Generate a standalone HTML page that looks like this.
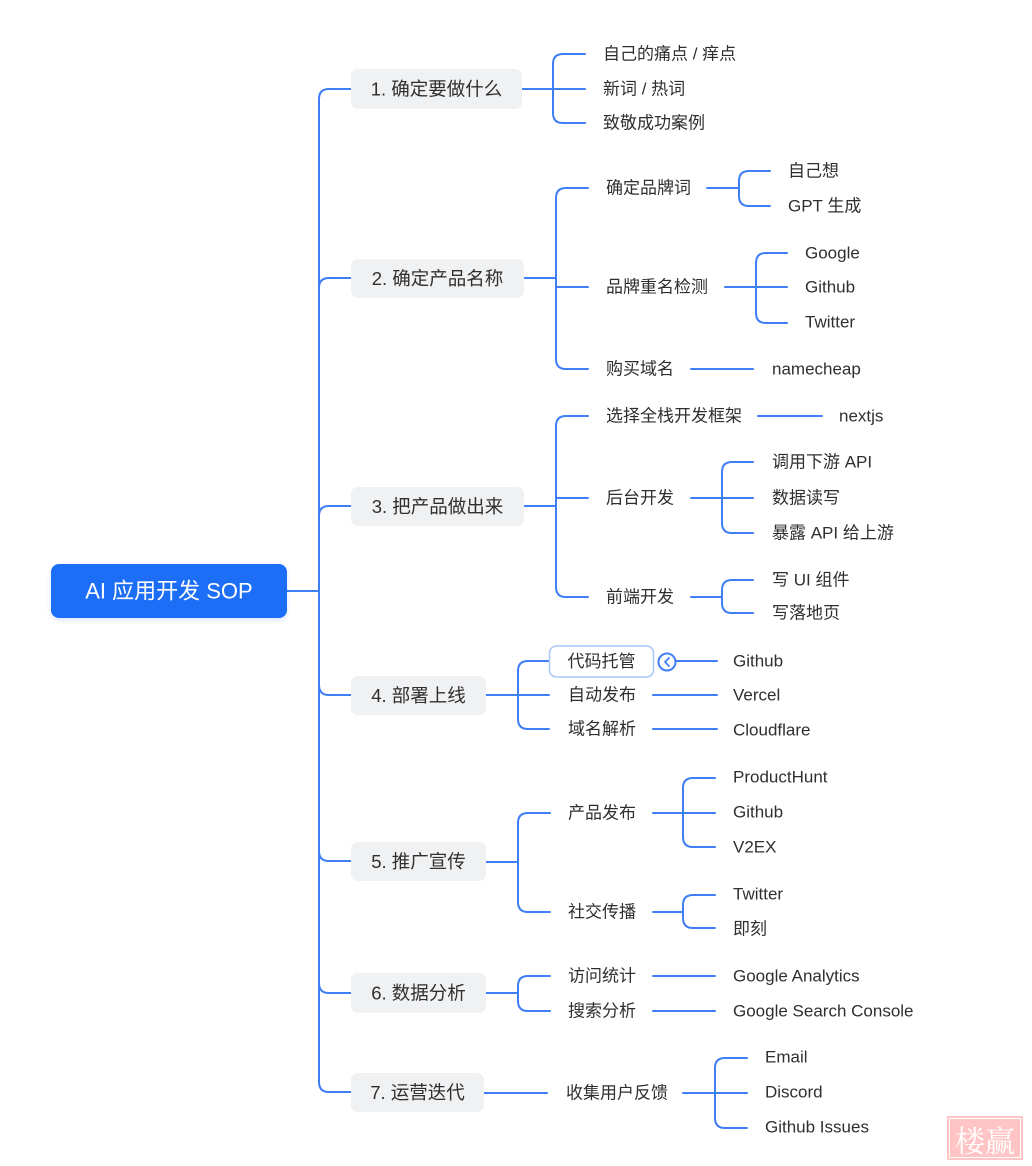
<!DOCTYPE html>
<html><head><meta charset="utf-8"><style>
html,body{margin:0;padding:0;background:#fff;}
svg{display:block;}
text{font-family:"Liberation Sans","Noto Sans CJK SC",sans-serif;fill:#2f2f2f;dominant-baseline:central;}
.l1{font-size:18.5px;text-anchor:middle;}
.t{font-size:17px;}
.ln{fill:none;stroke:#3f7ef5;stroke-width:2;stroke-linecap:round;stroke-linejoin:round;}
</style></head><body>
<svg width="1032" height="1166" viewBox="0 0 1032 1166" xmlns="http://www.w3.org/2000/svg">
<defs>
<filter id="sh" x="-10%" y="-20%" width="120%" height="150%"><feDropShadow dx="0" dy="2" stdDeviation="2" flood-color="#1c6ef7" flood-opacity="0.18"/></filter>
</defs>
<!-- root to level 1 -->
<g class="ln">
<path d="M287 591 H319"/>
<path d="M319 591 V99 Q319 89 329 89 H351"/>
<path d="M319 591 V288 Q319 278 329 278 H351"/>
<path d="M319 591 V516 Q319 506 329 506 H351"/>
<path d="M319 591 V685 Q319 695 329 695 H351"/>
<path d="M319 591 V851 Q319 861 329 861 H351"/>
<path d="M319 591 V983 Q319 993 329 993 H351"/>
<path d="M319 591 V1082 Q319 1092 329 1092 H351"/>

<!-- group 1 -->
<path d="M522 89 H553"/>
<path d="M553 89 V64 Q553 54 563 54 H585"/>
<path d="M553 89 H585"/>
<path d="M553 89 V113 Q553 123 563 123 H585"/>

<!-- group 2 -->
<path d="M524 278 H556"/>
<path d="M556 278 V198 Q556 188 566 188 H588"/>
<path d="M556 278 V287 H588"/>
<path d="M556 278 V359 Q556 369 566 369 H588"/>
<path d="M707 188 H739"/>
<path d="M739 188 V181 Q739 171 749 171 H770"/>
<path d="M739 188 V196 Q739 206 749 206 H770"/>
<path d="M725 287 H756"/>
<path d="M756 287 V263 Q756 253 766 253 H787"/>
<path d="M756 287 H787"/>
<path d="M756 287 V313 Q756 323 766 323 H787"/>
<path d="M691 369 H753"/>

<!-- group 3 -->
<path d="M524 506 H556"/>
<path d="M556 506 V426 Q556 416 566 416 H588"/>
<path d="M556 506 V498 H588"/>
<path d="M556 506 V587 Q556 597 566 597 H588"/>
<path d="M758 416 H822"/>
<path d="M691 498 H722"/>
<path d="M722 498 V472 Q722 462 732 462 H753"/>
<path d="M722 498 H753"/>
<path d="M722 498 V523 Q722 533 732 533 H753"/>
<path d="M691 597 H722"/>
<path d="M722 597 V590 Q722 580 732 580 H753"/>
<path d="M722 597 V603 Q722 613 732 613 H753"/>

<!-- group 4 -->
<path d="M486 695 H518"/>
<path d="M518 695 V671 Q518 661 528 661 H549"/>
<path d="M518 695 H549"/>
<path d="M518 695 V719 Q518 729 528 729 H549"/>
<path d="M676 661 H717"/>
<path d="M653 695 H717"/>
<path d="M653 729 H717"/>

<!-- group 5 -->
<path d="M486 862 H518"/>
<path d="M518 862 V823 Q518 813 528 813 H550"/>
<path d="M518 862 V902 Q518 912 528 912 H550"/>
<path d="M653 813 H683"/>
<path d="M683 813 V788 Q683 778 693 778 H715"/>
<path d="M683 813 H715"/>
<path d="M683 813 V837 Q683 847 693 847 H715"/>
<path d="M653 912 H683"/>
<path d="M683 912 V905 Q683 895 693 895 H715"/>
<path d="M683 912 V918 Q683 928 693 928 H715"/>

<!-- group 6 -->
<path d="M486 993 H518"/>
<path d="M518 993 V986 Q518 976 528 976 H550"/>
<path d="M518 993 V1001 Q518 1011 528 1011 H550"/>
<path d="M653 976 H715"/>
<path d="M653 1011 H715"/>

<!-- group 7 -->
<path d="M484 1093 H547"/>
<path d="M683 1093 H715"/>
<path d="M715 1093 V1068 Q715 1058 725 1058 H747"/>
<path d="M715 1093 H747"/>
<path d="M715 1093 V1118 Q715 1128 725 1128 H747"/>
</g>

<!-- root -->
<rect x="51" y="564" width="236" height="54" rx="8" fill="#1c6ef7" filter="url(#sh)"/>
<text x="169" y="591" style="font-size:22px;text-anchor:middle;fill:#fff;">AI 应用开发 SOP</text>

<!-- level 1 boxes -->
<rect x="351" y="69" width="171" height="40" rx="7" fill="#f0f1f3"/>
<text class="l1" x="436.5" y="89">1. 确定要做什么</text>
<rect x="351" y="259" width="173" height="39" rx="7" fill="#f0f1f3"/>
<text class="l1" x="437.5" y="278.5">2. 确定产品名称</text>
<rect x="351" y="487" width="173" height="39" rx="7" fill="#f0f1f3"/>
<text class="l1" x="437.5" y="506.5">3. 把产品做出来</text>
<rect x="351" y="676" width="135" height="39" rx="7" fill="#f0f1f3"/>
<text class="l1" x="418.5" y="695.5">4. 部署上线</text>
<rect x="351" y="842" width="135" height="39" rx="7" fill="#f0f1f3"/>
<text class="l1" x="418.5" y="861.5">5. 推广宣传</text>
<rect x="351" y="973" width="135" height="40" rx="7" fill="#f0f1f3"/>
<text class="l1" x="418.5" y="993">6. 数据分析</text>
<rect x="351" y="1073" width="133" height="39" rx="7" fill="#f0f1f3"/>
<text class="l1" x="417.5" y="1092.5">7. 运营迭代</text>

<!-- group 1 texts -->
<text class="t" x="603" y="54">自己的痛点 / 痒点</text>
<text class="t" x="603" y="89">新词 / 热词</text>
<text class="t" x="603" y="123">致敬成功案例</text>

<!-- group 2 texts -->
<text class="t" x="606" y="188">确定品牌词</text>
<text class="t" x="606" y="287">品牌重名检测</text>
<text class="t" x="606" y="369">购买域名</text>
<text class="t" x="788" y="171">自己想</text>
<text class="t" x="788" y="206">GPT 生成</text>
<text class="t" x="805" y="253">Google</text>
<text class="t" x="805" y="287">Github</text>
<text class="t" x="805" y="322">Twitter</text>
<text class="t" x="772" y="369">namecheap</text>

<!-- group 3 texts -->
<text class="t" x="606" y="416">选择全栈开发框架</text>
<text class="t" x="839" y="416">nextjs</text>
<text class="t" x="606" y="498">后台开发</text>
<text class="t" x="772" y="462">调用下游 API</text>
<text class="t" x="772" y="498">数据读写</text>
<text class="t" x="772" y="533">暴露 API 给上游</text>
<text class="t" x="606" y="597">前端开发</text>
<text class="t" x="772" y="580">写 UI 组件</text>
<text class="t" x="772" y="613">写落地页</text>

<!-- group 4 texts -->
<rect x="549.5" y="646" width="104" height="31" rx="7" fill="#fff" stroke="#a9c5fb" stroke-width="1.5"/>
<text class="t" x="601.5" y="661.5" style="text-anchor:middle;">代码托管</text>
<circle cx="667" cy="662" r="8.5" fill="#fff" stroke="#3f7ef5" stroke-width="2"/>
<path d="M669 658 L665 662 L669 666" fill="none" stroke="#3f7ef5" stroke-width="1.8" stroke-linecap="round" stroke-linejoin="round"/>
<text class="t" x="568" y="695">自动发布</text>
<text class="t" x="568" y="729">域名解析</text>
<text class="t" x="733" y="661">Github</text>
<text class="t" x="733" y="695">Vercel</text>
<text class="t" x="733" y="730">Cloudflare</text>

<!-- group 5 texts -->
<text class="t" x="568" y="813">产品发布</text>
<text class="t" x="568" y="912">社交传播</text>
<text class="t" x="733" y="777">ProductHunt</text>
<text class="t" x="733" y="812">Github</text>
<text class="t" x="733" y="847">V2EX</text>
<text class="t" x="733" y="894">Twitter</text>
<text class="t" x="733" y="929">即刻</text>

<!-- group 6 texts -->
<text class="t" x="568" y="976">访问统计</text>
<text class="t" x="568" y="1011">搜索分析</text>
<text class="t" x="733" y="976">Google Analytics</text>
<text class="t" x="733" y="1011">Google Search Console</text>

<!-- group 7 texts -->
<text class="t" x="566" y="1093">收集用户反馈</text>
<text class="t" x="765" y="1057">Email</text>
<text class="t" x="765" y="1092">Discord</text>
<text class="t" x="765" y="1127">Github Issues</text>

<!-- watermark -->
<rect x="947" y="1116" width="76" height="44" fill="#ffc4c4"/>
<rect x="949.5" y="1118.5" width="71" height="39" fill="none" stroke="#fff" stroke-width="1"/>
<text x="985" y="1139" style="font-size:30px;text-anchor:middle;fill:#fff;font-family:'Noto Serif CJK SC','Noto Sans CJK SC',serif;">楼赢</text>
</svg>
</body></html>
